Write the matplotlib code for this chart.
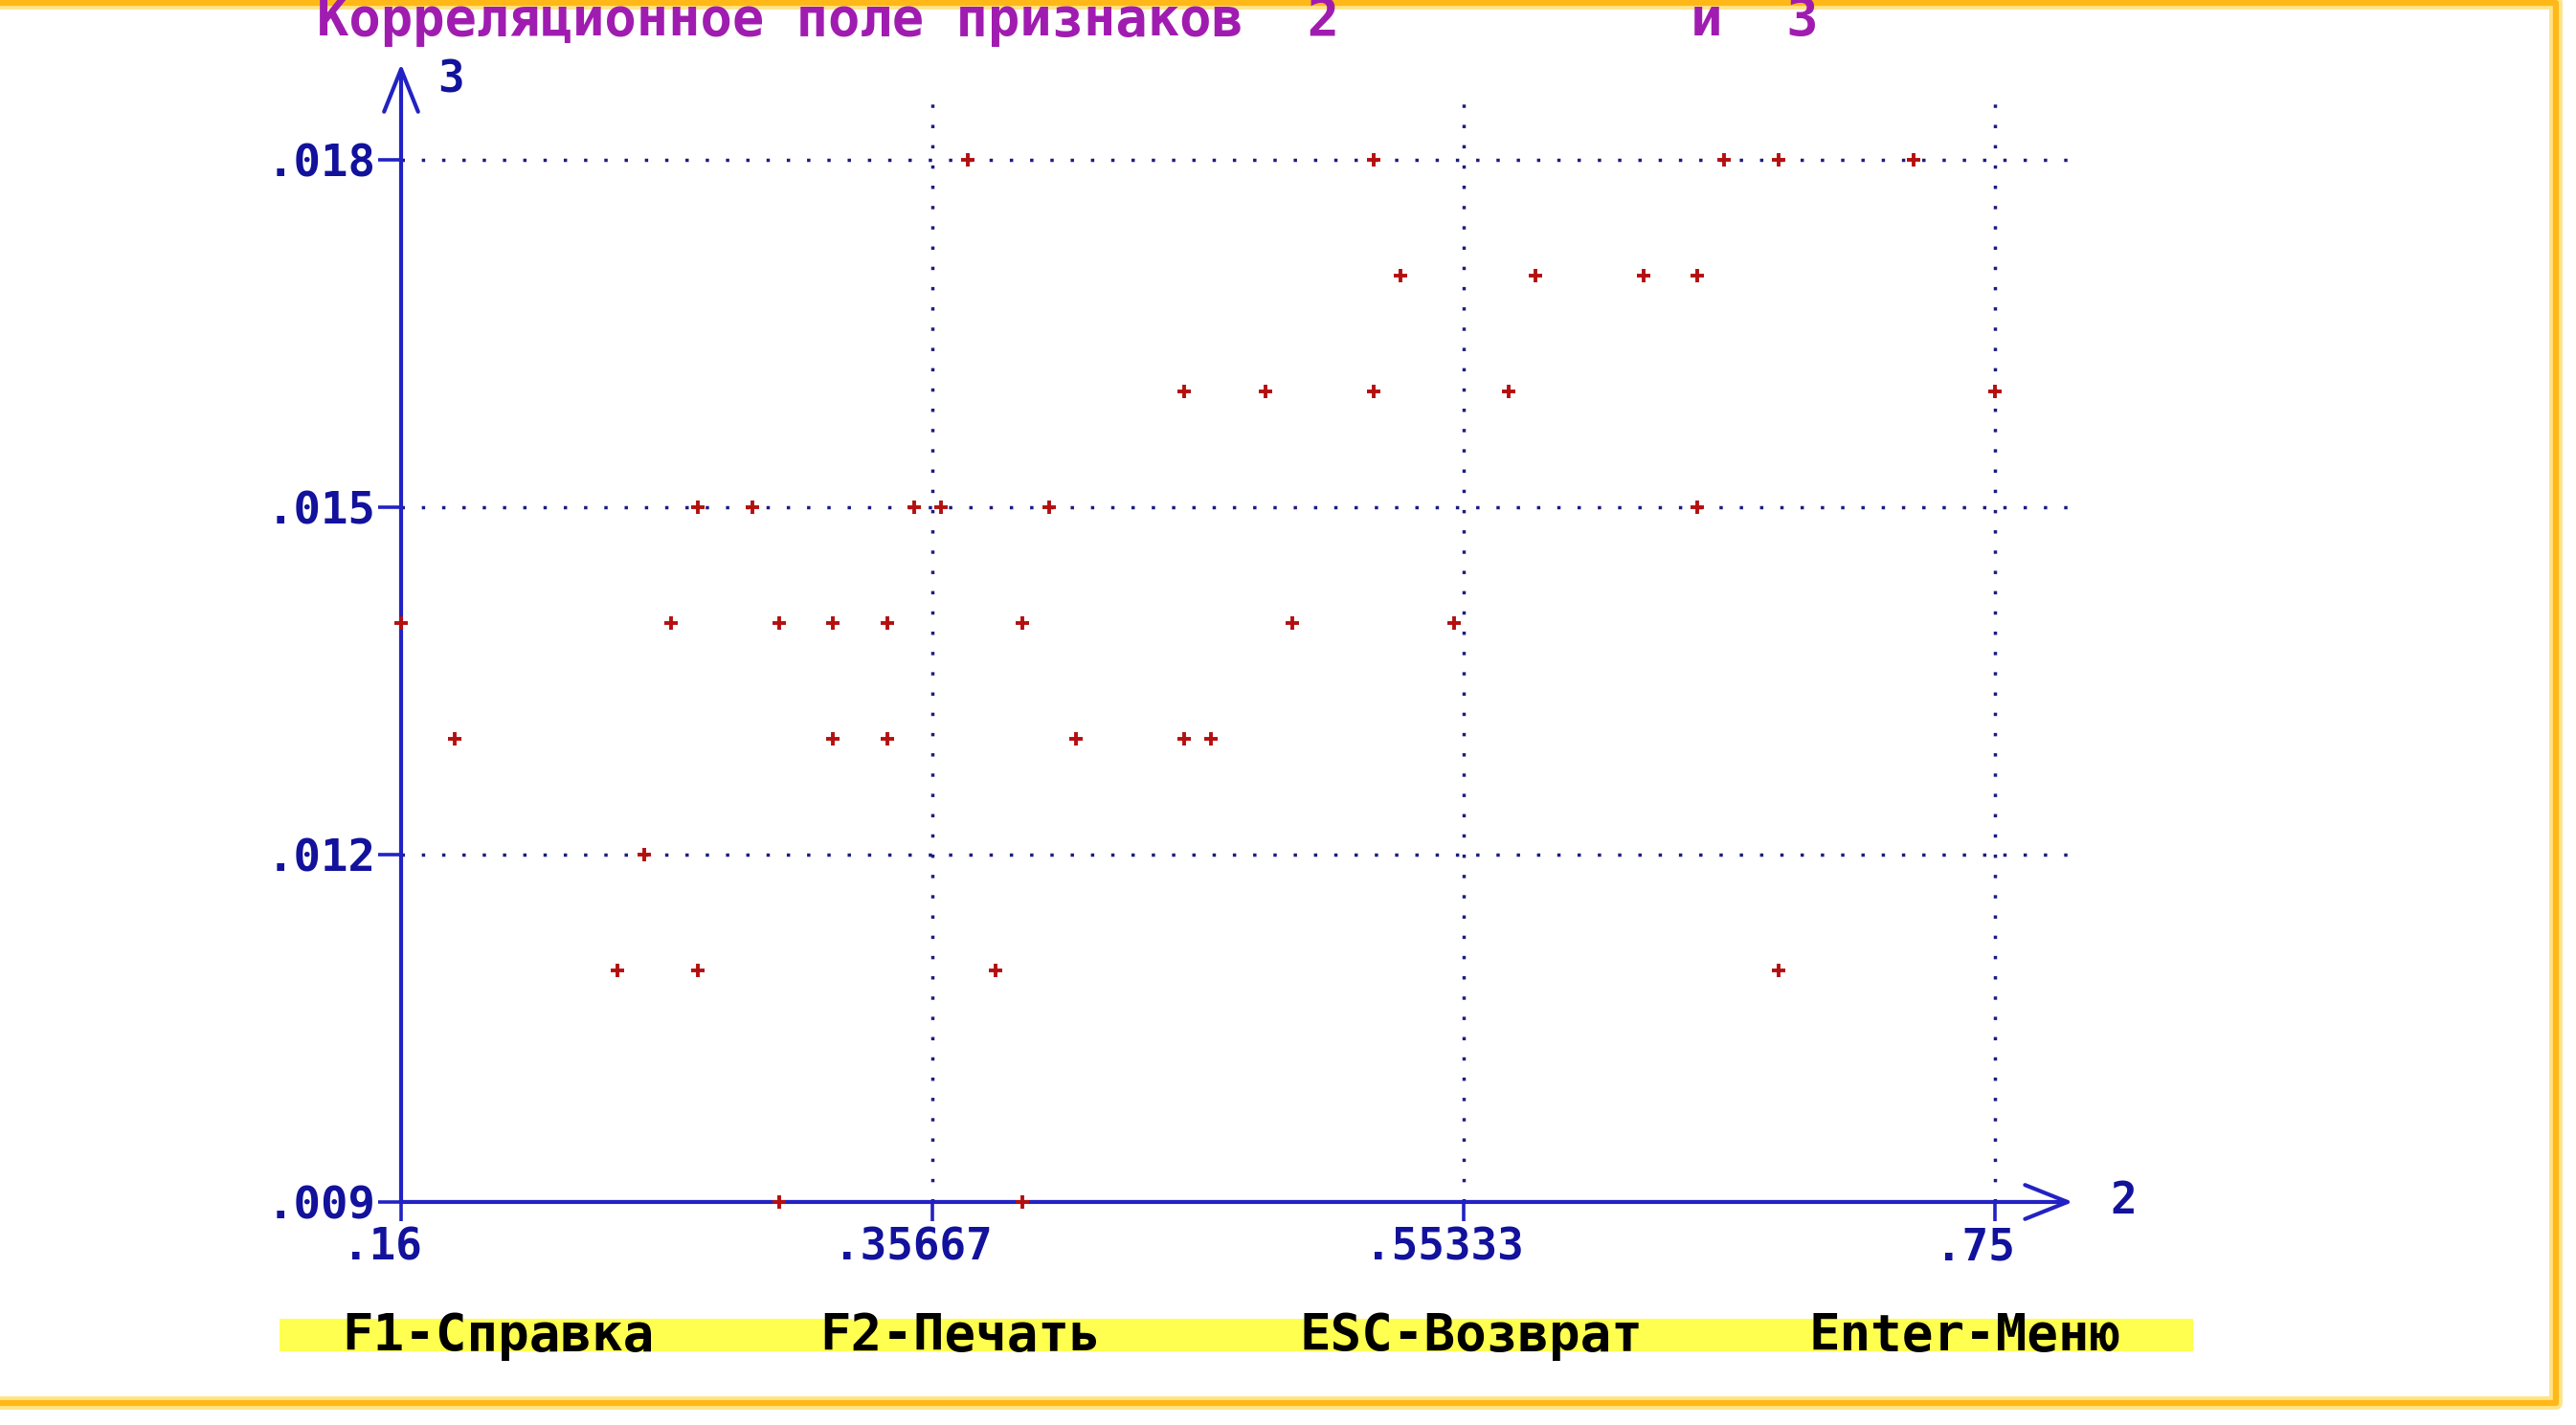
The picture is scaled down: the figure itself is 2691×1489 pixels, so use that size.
import matplotlib.pyplot as plt
import matplotlib.transforms as mtransforms
from matplotlib.lines import Line2D
from matplotlib.patches import Rectangle

# Correlation field data: feature 2 (x) vs feature 3 (y)
x_vals = [0.37, 0.52, 0.65, 0.67, 0.72,
          0.53, 0.58, 0.62, 0.64,
          0.45, 0.48, 0.52, 0.57, 0.75,
          0.27, 0.29, 0.35, 0.36, 0.40, 0.64,
          0.16, 0.26, 0.30, 0.32, 0.34, 0.39, 0.49, 0.55,
          0.18, 0.32, 0.34, 0.41, 0.45, 0.46,
          0.25,
          0.24, 0.27, 0.38, 0.67,
          0.30, 0.39]
y_vals = [0.018] * 5 + [0.017] * 4 + [0.016] * 5 + [0.015] * 6 + \
         [0.014] * 8 + [0.013] * 6 + [0.012] * 1 + [0.011] * 4 + [0.009] * 2

x_ticks = [0.16, 0.35667, 0.55333, 0.75]
x_tick_labels = ['.16', '.35667', '.55333', '.75']
y_ticks = [0.009, 0.012, 0.015, 0.018]
y_tick_labels = ['.009', '.012', '.015', '.018']

title = 'Корреляционное поле признаков  2           и  3'
menu_items = ['F1-Справка', 'F2-Печать', 'ESC-Возврат', 'Enter-Меню']

mono = ['DejaVu Sans Mono']
axis_blue = '#2222c4'
label_blue = '#12129c'
grid_blue = '#1c1c80'

fig = plt.figure(figsize=(26.91, 14.89), dpi=100)
fig.patch.set_facecolor('white')
ax = fig.add_axes([0.1557, 0.1565, 0.6511, 0.7723])
ax.set_xlim(0.16, 0.781)
ax.set_ylim(0.009, 0.0185)
for s in ax.spines.values():
    s.set_visible(False)

# dotted grid
for y in y_ticks[1:]:
    ax.axhline(y, color=grid_blue, lw=2.5, linestyle=(0, (1, 5.1)), zorder=1)
for x in x_ticks[1:]:
    ax.axvline(x, color=grid_blue, lw=2.5, linestyle=(0, (1, 5.1)), zorder=1)

# axes with arrows
arrow = dict(arrowstyle='->,head_length=1.0,head_width=0.4', color=axis_blue,
             lw=3.0, mutation_scale=32, shrinkA=0, shrinkB=0)
ax.annotate('', xy=(0.779, 0.009), xytext=(0.16, 0.009), arrowprops=arrow,
            annotation_clip=False, zorder=2)
ax.annotate('', xy=(0.16, 0.018825), xytext=(0.16, 0.009), arrowprops=arrow,
            annotation_clip=False, zorder=2)
ax.text(0.16, 0.018825, '3',
        transform=ax.transData + mtransforms.ScaledTranslation(0.38, -0.17, fig.dpi_scale_trans),
        fontsize=33, fontweight='bold', family=mono, color=label_blue, ha='left', va='center')
ax.text(0.779, 0.009, '2',
        transform=ax.transData + mtransforms.ScaledTranslation(0.53, 0, fig.dpi_scale_trans),
        fontsize=33, fontweight='bold', family=mono, color=label_blue, ha='center', va='center')

ax.set_xticks(x_ticks, x_tick_labels)
ax.set_yticks(y_ticks, y_tick_labels)
ax.tick_params(axis='x', length=14.5, width=2.6, color=axis_blue, pad=2, labelsize=33, labelcolor=label_blue)
ax.tick_params(axis='y', length=17, width=2.6, color=axis_blue, pad=2, labelsize=34, labelcolor=label_blue)
for lab in ax.get_xticklabels() + ax.get_yticklabels():
    lab.set_family(mono)
    lab.set_fontweight('bold')
shift = mtransforms.ScaledTranslation(-0.2, -0.03, fig.dpi_scale_trans)
for lab in ax.get_xticklabels():
    lab.set_transform(lab.get_transform() + shift)

# points
ax.plot(x_vals, y_vals, linestyle='none', marker='+', markersize=9.5, mew=2.8,
        color='#b41010', clip_on=False, zorder=3)

# title
fig.text(0.1230, 0.985, title, fontsize=40, fontweight='bold', family=mono,
         color='#a01cb0', ha='left', va='center')

# bottom menu bar
fig.add_artist(Rectangle((0.1085, 0.0517), 0.7429, 0.0228, transform=fig.transFigure,
                         facecolor='#ffff50', edgecolor='none'))
for item, xpos in zip(menu_items, [0.1327, 0.3182, 0.5044, 0.7021]):
    fig.text(xpos, 0.0625, item, fontsize=39, fontweight='bold', family=mono,
             color='black', ha='left', va='center')

# orange frame (top, right, bottom)
frame_x = [0.0, 0.9922, 0.9922, 0.0]
frame_y = [0.998, 0.998, 0.0155, 0.0155]
fig.add_artist(Line2D(frame_x, frame_y, transform=fig.transFigure, color='#ffe488', lw=10))
fig.add_artist(Line2D(frame_x, frame_y, transform=fig.transFigure, color='#ffb818', lw=4.5))

fig.savefig('out.png', dpi=100, facecolor='white')
